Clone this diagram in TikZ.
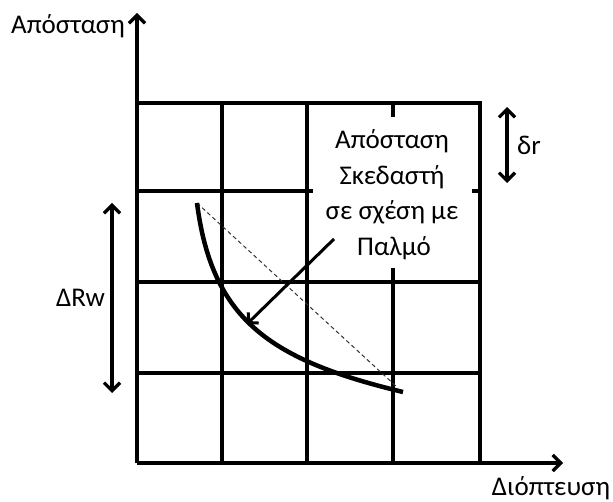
\documentclass[tikz,border=0pt]{standalone}
\usepackage{fontspec}
\setmainfont{Carlito}
\usetikzlibrary{arrows.meta}
\begin{document}
\begin{tikzpicture}[x=1pt,y=-1pt,
  gridline/.style={line width=3.2pt,line cap=rect},
  barb/.tip={Straight Barb[length=8pt,width=16pt]},
  axisline/.style={line width=3.2pt,-barb},
  dimarrow/.style={line width=3.2pt,barb-barb},
  curveline/.style={line width=4.5pt},
  dashline/.style={line width=1pt,dash pattern=on 4pt off 3pt,black!80},
  pointer/.style={line width=3pt,-{Straight Barb[length=7pt,width=15pt]}},
  lbl/.style={font=\fontsize{27}{32}\selectfont,inner sep=0pt}
]
\useasboundingbox (0,0) rectangle (613,502);
% grid
\foreach \xx in {222,307,393,480} \draw[gridline] (\xx,103) -- (\xx,463);
\foreach \yy in {103,191,282,373} \draw[gridline] (137,\yy) -- (480,\yy);
% axes
\coordinate (o) at (137,463);
\coordinate (ytip) at (137,13);
\coordinate (xtip) at (563,463);
\draw[axisline] (o) -- (ytip);
\draw[axisline] (o) -- (xtip);
% white box behind text
\node[fill=white,minimum width=159pt,minimum height=151pt,inner sep=0pt] (box) at (392.5,192.5) {};
\node[lbl,anchor=base] (t1) at (392,149) {Απόσταση};
\node[lbl,anchor=base] (t2) at (392,185) {Σκεδαστή};
\node[lbl,anchor=base] (t3) at (392,220) {σε σχέση με};
\node[lbl,anchor=base] (t4) at (394,256) {Παλμό};
% labels
\node[lbl,anchor=base east] (ylab) at (125,34) {Απόσταση};
\node[lbl,anchor=base] (xlab) at (551,495) {Διόπτευση};
\node[lbl,anchor=base west] (dr) at (517,155) {δr};
\node[lbl,anchor=base west] (dRw) at (56,307) {ΔRw};
% dimension arrows
\coordinate (dra) at (507,107);
\coordinate (drb) at (507,183);
\draw[dimarrow] (dra) -- (drb);
\coordinate (rwa) at (112,203);
\coordinate (rwb) at (112,393);
\draw[dimarrow] (rwa) -- (rwb);
% curve and chord
\coordinate (cs) at (197,203);
\coordinate (ce) at (403,392);
\coordinate (de) at (398,388);
\draw[dashline] (cs) -- (de);
\draw[curveline] (cs) .. controls (212,320) and (270,360) .. (ce);
% pointer
\coordinate (ptail) at (334,239);
\coordinate (phead) at (247,324);
\draw[pointer] (ptail) -- (phead);
\end{tikzpicture}
\end{document}
